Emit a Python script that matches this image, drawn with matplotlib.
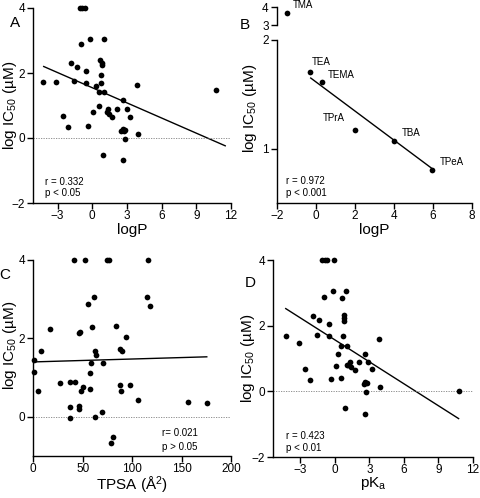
import matplotlib
matplotlib.use("Agg")
import matplotlib.pyplot as plt

plt.rcParams['font.family'] = ['Liberation Sans', 'DejaVu Sans']
plt.rcParams['mathtext.fontset'] = 'custom'
plt.rcParams['mathtext.rm'] = 'Liberation Sans'
plt.rcParams['mathtext.it'] = 'Liberation Sans:italic'

# panel A: logP vs log IC50
a_x = [-4.26, -3.11, -2.56, -2.13, -1.87, -1.58, -1.35, -1.05, -0.85, -0.63,
       -0.95, -0.57, -0.57, -0.35, -0.17, 0.06, 0.29, 0.58, 0.55, 0.69,
       0.75, 0.75, 0.81, 0.84, 0.98, 0.90, 1.04, 1.27, 1.38, 1.44,
       1.73, 2.14, 2.66, 2.51, 2.62, 2.72, 2.80, 2.80, 2.66, 2.98,
       3.26, 3.87, 3.95, 10.71]
a_y = [1.73, 1.73, 0.67, 0.34, 2.31, 1.75, 2.18, 4.0, 4.0, 4.0,
       2.90, 2.05, 1.70, 0.38, 3.06, 0.80, 1.60, 1.40, 0.99, 2.40,
       1.95, 1.69, 2.32, 2.24, 3.06, -0.51, 1.40, 0.80, 0.90, 0.75,
       0.64, 0.88, 1.16, 0.22, 0.28, 0.20, 0.26, -0.03, -0.69, 0.90,
       0.66, 1.63, 0.12, 1.47]
a_fit_x = [-4.2, 11.5]
a_fit_y = [2.20, -0.24]

# panel B: tetraalkylammonium series
b_names = ['TEA', 'TEMA', 'TPrA', 'TBA', 'TPeA']
b_x = [-0.31, 0.31, 2.0, 4.02, 5.93]
b_y = [1.71, 1.61, 1.17, 1.07, 0.80]
b_tma_x = -1.5
b_tma_y = 3.66
b_fit_x = [-0.27, 5.93]
b_fit_y = [1.65, 0.82]

# panel C: TPSA
c_x = [40.9, 52.0, 74.6, 76.6, 116.0, 61.4, 55.4, 115.4, 118.4, 16.5,
       46.0, 47.5, 59.0, 83.7, 94.0, 8.1, 0.7, 0.7, 4.7, 26.7,
       36.8, 41.9, 36.8, 36.8, 46.0, 46.0, 48.0, 50.3, 57.0, 57.0,
       58.7, 62.4, 63.8, 62.0, 69.5, 70.2, 87.8, 89.5, 87.8, 89.1,
       97.9, 106.3, 157.0, 175.5, 80.3, 78.2]
c_y = [4.0, 4.0, 4.0, 4.0, 4.0, 3.05, 2.88, 3.05, 2.83, 2.23,
       2.15, 2.16, 2.28, 2.32, 2.04, 1.69, 1.45, 1.15, 0.66, 0.87,
       0.89, 0.88, 0.26, -0.02, 0.27, 0.19, 0.66, 0.77, 0.72, 1.13,
       1.38, 1.68, 1.58, 0.0, 0.12, 1.38, 1.74, 1.69, 0.80, 0.65,
       0.80, 0.42, 0.39, 0.34, -0.51, -0.68]
c_fit_x = [0, 175.5]
c_fit_y = [1.40, 1.53]

# panel D: pKa
d_x = [-4.29, -3.14, -2.59, -2.16, -1.90, -1.59, -1.35, -1.12, -0.89, -0.66,
       -0.09, -0.98, -0.55, -0.55, -0.37, -0.20, 0.06, 0.29, 0.52, 0.52,
       0.61, 0.72, 0.78, 0.78, 0.75, 0.95, 0.89, 1.04, 1.18, 1.33,
       1.38, 1.07, 1.73, 2.10, 2.62, 2.57, 2.65, 2.77, 2.74, 2.62,
       2.91, 3.23, 3.80, 3.95, 10.75]
d_y = [1.70, 1.46, 0.67, 0.34, 2.29, 1.73, 2.17, 4.0, 4.0, 4.0,
       4.0, 2.88, 2.04, 1.68, 0.39, 3.05, 0.78, 1.15, 1.38, 0.42,
       2.83, 1.68, 2.32, 2.22, 2.15, 3.05, -0.51, 1.38, 0.79, 0.90,
       0.75, 0.81, 0.64, 0.88, 1.14, 0.23, 0.28, 0.26, -0.02, -0.68,
       0.90, 0.67, 1.59, 0.12, 0.01]
d_fit_x = [-4.27, 10.75]
d_fit_y = [2.52, -0.83]

ylab = 'log IC$_{50}$ (\u00b5M)'
W, H = 480.0, 498.0


def make_axes(fig, left, top, right, bottom):
    return fig.add_axes([left / W, 1 - bottom / H, (right - left) / W, (bottom - top) / H])


def style(ax):
    for s in ['top', 'right']:
        ax.spines[s].set_visible(False)
    for s in ['left', 'bottom']:
        ax.spines[s].set_linewidth(1.0)
    ax.tick_params(direction='out', length=4, width=1, labelsize=8.5, pad=2)
    ax.tick_params(axis='x', pad=1)


def dots(ax, x, y):
    ax.scatter(x, y, s=17, color='black', zorder=3, clip_on=False, linewidths=0)


fig = plt.figure(figsize=(4.8, 4.98), dpi=100)

# A
ax = make_axes(fig, 33.3, 8, 231, 203)
style(ax)
dots(ax, a_x, a_y)
ax.plot(a_fit_x, a_fit_y, color='black', lw=1)
ax.plot([-5.1, 12], [0, 0], color='gray', lw=0.6, ls=(0, (1.5, 1.5)))
ax.set_xlim(-5.1, 12)
ax.set_ylim(-2, 4)
ax.set_xticks([-3, 0, 3, 6, 9, 12])
ax.set_yticks([-2, 0, 2, 4])
ax.set_xlabel('logP', fontsize=11)
ax.set_ylabel(ylab, fontsize=11)
ax.xaxis.set_label_coords(0.5, -0.102)
ax.yaxis.set_label_coords(-0.07, 0.5)
ax.text(0.06, 0.108, 'r = 0.332', transform=ax.transAxes, fontsize=7, va='center')
ax.text(0.06, 0.051, 'p < 0.05', transform=ax.transAxes, fontsize=7, va='center')

# B (broken y axis)
ax = make_axes(fig, 277, 40, 472, 203)
style(ax)
dots(ax, b_x, b_y)
ax.plot(b_fit_x, b_fit_y, color='black', lw=1)
ax.set_xlim(-2, 8)
ax.set_ylim(0.5, 2)
ax.set_xticks([-2, 0, 2, 4, 6, 8])
ax.set_yticks([1, 2])
ax.set_xlabel('logP', fontsize=11)
ax.set_ylabel(ylab, fontsize=11)
ax.xaxis.set_label_coords(0.5, -0.124)
ax.yaxis.set_label_coords(-0.09, 0.583)
ax.text(0.046, 0.135, 'r = 0.972', transform=ax.transAxes, fontsize=7, va='center')
ax.text(0.046, 0.061, 'p < 0.001', transform=ax.transAxes, fontsize=7, va='center')
offsets = {'TEA': (1, 7), 'TEMA': (4, 5), 'TPrA': (-23, 9), 'TBA': (5, 6), 'TPeA': (6, 6)}
for name, x, y in zip(b_names, b_x, b_y):
    ax.annotate(name, (x, y), xytext=offsets[name], textcoords='offset points',
                fontsize=7, ha='left', va='center')

axu = make_axes(fig, 277, 7.3, 472, 25)
style(axu)
axu.spines['bottom'].set_visible(False)
axu.set_xlim(-2, 8)
axu.set_ylim(3, 4)
axu.set_xticks([])
axu.set_yticks([3, 4])
axu.patch.set_alpha(0)
dots(axu, [b_tma_x], [b_tma_y])
axu.annotate('TMA', (b_tma_x, b_tma_y), xytext=(4, 6), textcoords='offset points',
             fontsize=7, ha='left', va='center')

# C
ax = make_axes(fig, 33.3, 260, 231, 456)
style(ax)
dots(ax, c_x, c_y)
ax.plot(c_fit_x, c_fit_y, color='black', lw=1)
ax.plot([0, 200], [0, 0], color='gray', lw=0.6, ls=(0, (1.5, 1.5)))
ax.set_xlim(0, 200)
ax.set_ylim(-1, 4)
ax.set_xticks([0, 50, 100, 150, 200])
ax.set_yticks([0, 2, 4])
ax.set_xlabel('TPSA (\u00c5$^2$)', fontsize=11)
ax.set_ylabel(ylab, fontsize=11)
ax.xaxis.set_label_coords(0.5, -0.095)
ax.yaxis.set_label_coords(-0.07, 0.566)
ax.text(0.65, 0.119, 'r= 0.021', transform=ax.transAxes, fontsize=7, va='center')
ax.text(0.65, 0.047, 'p > 0.05', transform=ax.transAxes, fontsize=7, va='center')

# D
ax = make_axes(fig, 273.3, 260, 473, 457)
style(ax)
dots(ax, d_x, d_y)
ax.plot(d_fit_x, d_fit_y, color='black', lw=1)
ax.plot([-5.35, 12], [0, 0], color='gray', lw=0.6, ls=(0, (1.5, 1.5)))
ax.set_xlim(-5.35, 12)
ax.set_ylim(-2, 4)
ax.set_xticks([-3, 0, 3, 6, 9, 12])
ax.set_yticks([-2, 0, 2, 4])
ax.set_xlabel('pK$_\\mathrm{a}$', fontsize=11)
ax.set_ylabel(ylab, fontsize=11)
ax.xaxis.set_label_coords(0.5, -0.09)
ax.yaxis.set_label_coords(-0.082, 0.5)
ax.text(0.064, 0.107, 'r = 0.423', transform=ax.transAxes, fontsize=7, va='center')
ax.text(0.064, 0.046, 'p < 0.01', transform=ax.transAxes, fontsize=7, va='center')

for letter, px, py in [('A', 15, 23), ('B', 245, 25), ('C', 5, 275), ('D', 250, 283)]:
    fig.text(px / W, 1 - py / H, letter, fontsize=11, ha='center', va='center')

fig.savefig('out.png', dpi=100)
